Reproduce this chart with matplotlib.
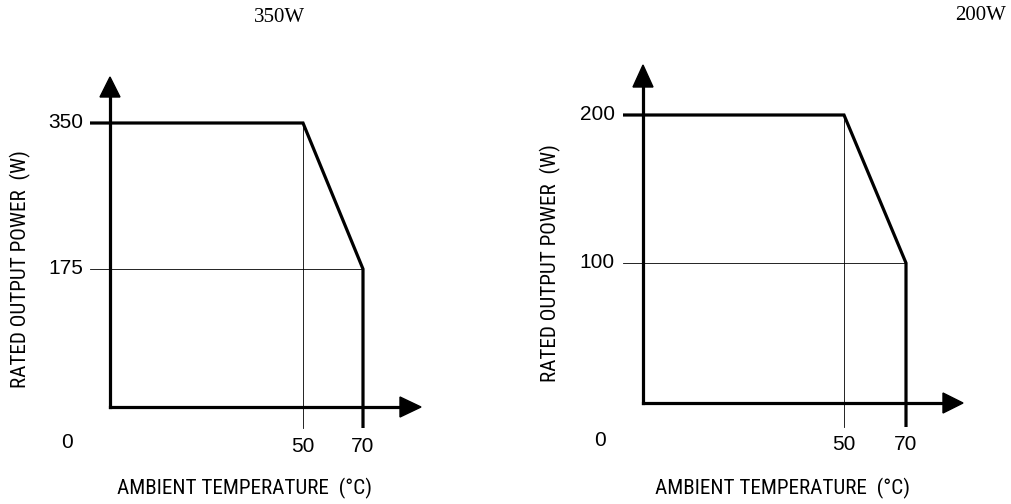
"""
Derating curves: rated output power vs ambient temperature (350W / 200W)
"""
import numpy as np
import matplotlib
matplotlib.use("Agg")
import matplotlib.pyplot as plt
from matplotlib.patches import Polygon
from matplotlib.transforms import Affine2D

W, H = 1012, 504

# data
temps = [0, 50, 70]
power_350 = [350, 350, 175]
power_200 = [200, 200, 100]
yticks_350 = [0, 175, 350]
yticks_200 = [0, 100, 200]
titles = ["350W", "200W"]
xlabel = "AMBIENT TEMPERATURE  (°C)"
ylabel = "RATED OUTPUT POWER  (W)"

# layout in pixels (top-down), one dict per panel
panels = [
    dict(power=power_350, yticks=yticks_350, title=titles[0],
         tx=[110, 303, 363], py=[407, 269, 123], stub_x=90, drop_y=428,
         ytip=77, ybase=97, xtip=421, xbase=400,
         zero=(67, 443), xtick_y=447, ytick_right=83,
         ylab=(20, 269), xlab=(245, 488), title_xy=(280, 17)),
    dict(power=power_200, yticks=yticks_200, title=titles[1],
         tx=[643, 844, 906], py=[403, 263, 115], stub_x=623, drop_y=427,
         ytip=65, ybase=87, xtip=963, xbase=943,
         zero=(600, 440), xtick_y=445, ytick_right=615,
         ylab=(550, 263), xlab=(783, 488), title_xy=(981, 16)),
]

COND = ["Roboto Condensed", "Liberation Sans", "DejaVu Sans"]
SANS = ["Liberation Sans", "DejaVu Sans"]
SERIF = ["Liberation Serif", "DejaVu Serif"]
THICK = 2.3
THIN = 0.6


def piecewise(src, dst):
    """piecewise linear map with linear extrapolation at both ends"""
    src = np.asarray(src, float)
    dst = np.asarray(dst, float)
    s_lo = (dst[1] - dst[0]) / (src[1] - src[0])
    s_hi = (dst[-1] - dst[-2]) / (src[-1] - src[-2])

    def f(v):
        v = np.asarray(v, float)
        out = np.interp(v, src, dst)
        out = np.where(v < src[0], dst[0] + (v - src[0]) * s_lo, out)
        out = np.where(v > src[-1], dst[-1] + (v - src[-1]) * s_hi, out)
        return out
    return f


fig = plt.figure(figsize=(W / 100, H / 100), dpi=100)
pix = Affine2D().scale(1 / W, -1 / H).translate(0, 1) + fig.transFigure

for p in panels:
    ax = fig.add_axes([0, 0, 1, 1])
    ax.patch.set_alpha(0)
    ax.set_axis_off()

    fx = piecewise(temps, p["tx"])
    fx_inv = piecewise(p["tx"], temps)
    fig_y = [H - v for v in p["py"]]
    fy = piecewise(p["yticks"], fig_y)
    fy_inv = piecewise(fig_y, p["yticks"])
    ax.set_xscale("function", functions=(fx, fx_inv))
    ax.set_yscale("function", functions=(fy, fy_inv))
    ax.set_xlim(float(fx_inv(0)), float(fx_inv(W)))
    ax.set_ylim(float(fy_inv(0)), float(fy_inv(H)))

    t_stub = float(fx_inv(p["stub_x"]))
    p_drop = float(fy_inv(H - p["drop_y"]))
    pw = p["power"]

    # thin guide lines
    ax.plot([temps[1], temps[1]], [pw[1], p_drop], color="black", lw=THIN)
    ax.plot([t_stub, temps[2]], [pw[2], pw[2]], color="black", lw=THIN)

    # derating curve
    ax.plot([t_stub] + temps + [temps[2]], [pw[0]] + pw + [p_drop],
            color="black", lw=THICK, solid_joinstyle="miter",
            solid_capstyle="butt")

    # axes with arrows
    ox, oy = p["tx"][0], p["py"][0]
    ax.plot([ox, ox], [oy, p["ybase"]], color="black", lw=THICK,
            transform=pix, solid_capstyle="projecting")
    ax.plot([ox, p["xbase"]], [oy, oy], color="black", lw=THICK,
            transform=pix, solid_capstyle="projecting")
    ax.add_patch(Polygon([(ox, p["ytip"]), (ox - 10, p["ybase"]),
                          (ox + 10, p["ybase"])], closed=True,
                         color="black", transform=pix))
    ax.add_patch(Polygon([(p["xtip"], oy), (p["xbase"], oy - 10),
                          (p["xbase"], oy + 10)], closed=True,
                         color="black", transform=pix))

    # tick labels
    ax.text(*p["zero"], "0", transform=pix, ha="center", va="center",
            fontsize=15, family=SANS)
    for t, px in zip(temps[1:], p["tx"][1:]):
        ax.text(px, p["xtick_y"], str(t), transform=pix, ha="center",
                va="center", fontsize=15, family=SANS)
    for v, py in zip(p["yticks"][1:], p["py"][1:]):
        ax.text(p["ytick_right"], py, str(v), transform=pix, ha="right",
                va="center", fontsize=15, family=SANS)

    ax.text(*p["xlab"], xlabel, transform=pix, ha="center", va="center",
            fontsize=15.2, family=COND)
    ax.text(*p["ylab"], ylabel, transform=pix, ha="center", va="center",
            rotation=90, fontsize=15.2, family=COND)
    ax.text(*p["title_xy"], p["title"], transform=pix, ha="center",
            va="center", fontsize=15, family=SERIF)

fig.savefig("out.png", dpi=100)
